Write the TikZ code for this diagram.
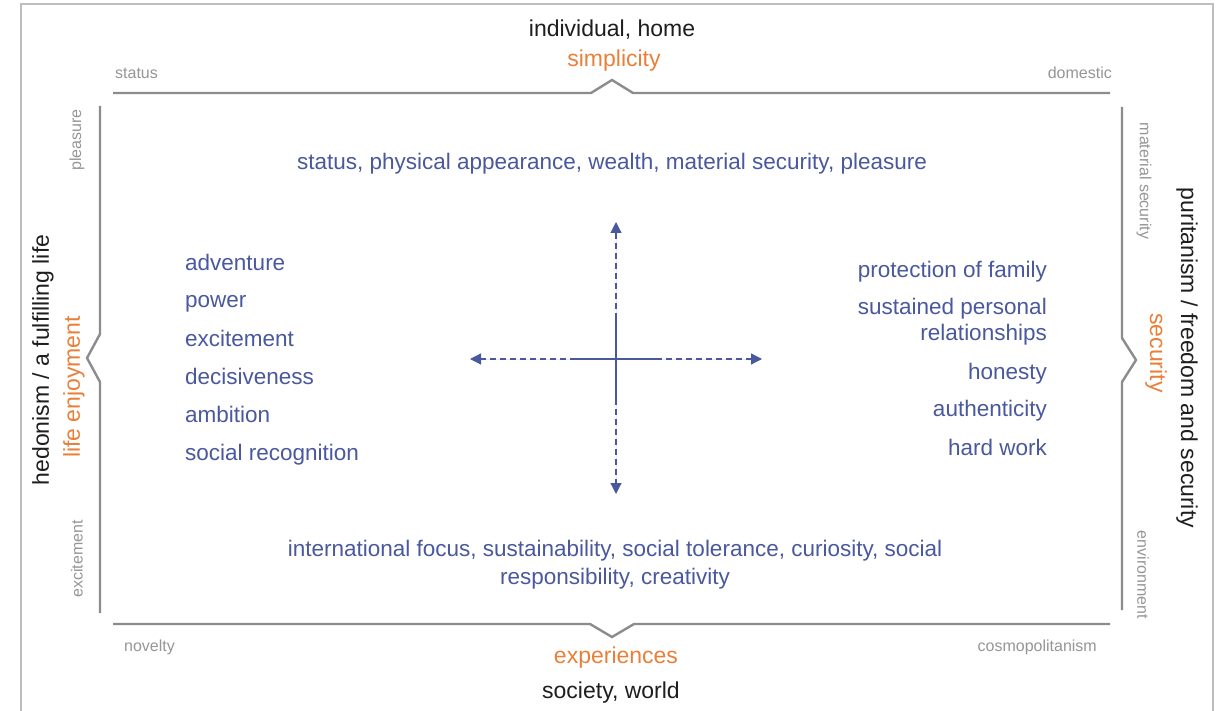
\documentclass[tikz,border=0pt]{standalone}
\usepackage{fontspec}
\setmainfont{Liberation Sans}
\usetikzlibrary{arrows.meta}
\definecolor{tblue}{RGB}{74,88,158}
\definecolor{torange}{RGB}{232,128,58}
\definecolor{tblack}{RGB}{30,30,30}
\definecolor{tgray}{RGB}{150,150,150}
\definecolor{framegray}{RGB}{190,190,190}
\definecolor{bracketgray}{RGB}{140,140,140}
\tikzset{
  bluetxt/.style={text=tblue, font=\fontsize{22.5}{25.5}\selectfont, inner sep=0pt},
  axislbl/.style={text=tblack, font=\fontsize{23}{27}\selectfont, inner sep=0pt},
  poletxt/.style={text=torange, font=\fontsize{23}{27}\selectfont, inner sep=0pt},
  cornertxt/.style={text=tgray, font=\fontsize{16}{19}\selectfont, inner sep=0pt},
  bracket/.style={draw=bracketgray, line width=2.4pt, line join=miter},
  frameline/.style={draw=framegray, line width=1.8pt},
  axisarrow/.style={draw=tblue, line width=1.2pt, dash pattern=on 6pt off 4pt, -{Triangle[length=11pt,width=11pt]}, fill=tblue},
  axissolid/.style={draw=tblue, line width=2.4pt},
}
\begin{document}
\begin{tikzpicture}[x=1pt,y=-1pt]
\useasboundingbox (0,0) rectangle (1223,711);
\fill[white] (0,0) rectangle (1223,711);
% outer frame
\draw[frameline] (21,720) -- (21,4) -- (1213,4) -- (1213,720);
% brackets
\draw[bracket] (113,93) -- (591,93) -- (612,80) -- (633,93) -- (1110,93);
\draw[bracket] (113,624) -- (590,624) -- (612,637) -- (634,624) -- (1110,624);
\draw[bracket] (100,106) -- (100,334) -- (87,358) -- (100,382) -- (100,613);
\draw[bracket] (1122,107) -- (1122,338) -- (1136,360) -- (1122,382) -- (1122,610);
% axis labels
\node[axislbl, anchor=base] (top) at (612,37) {individual, home};
\node[poletxt, anchor=base] (simp) at (614,67) {simplicity};
\node[poletxt, anchor=base] (exp) at (616,663) {experiences};
\node[axislbl, anchor=base] (bot) at (611,698) {society, world};
\node[axislbl, rotate=90] (left) at (43,360) {hedonism / a fulfilling life};
\node[poletxt, rotate=90] (lifeenj) at (74,387) {life enjoyment};
\node[axislbl, rotate=-90] (right) at (1187,358) {puritanism / freedom and security};
\node[poletxt, rotate=-90] (sec) at (1156,353) {security};
% corner labels
\node[cornertxt, anchor=base west] (c1) at (115,79) {status};
\node[cornertxt, anchor=base east] (c2) at (1112,79) {domestic};
\node[cornertxt, anchor=base west] (c3) at (124,651) {novelty};
\node[cornertxt, anchor=base east] (c4) at (1097,651) {cosmopolitanism};
\node[cornertxt, rotate=90] (c5) at (77,140) {pleasure};
\node[cornertxt, rotate=90] (c6) at (77,559) {excitement};
\node[cornertxt, rotate=-90] (c7) at (1144,181) {material security};
\node[cornertxt, rotate=-90] (c8) at (1143,575) {environment};
% blue content
\node[bluetxt, anchor=base] (tq) at (612,170) {status, physical appearance, wealth, material security, pleasure};
\node[bluetxt, anchor=base, align=center, font=\fontsize{22.5}{28}\selectfont] (bq) at (615,584) {international focus, sustainability, social tolerance, curiosity, social\\responsibility, creativity};
\node[bluetxt, anchor=base west] (l1) at (185,271) {adventure};
\node[bluetxt, anchor=base west] (l2) at (185,308) {power};
\node[bluetxt, anchor=base west] (l3) at (185,346) {excitement};
\node[bluetxt, anchor=base west] (l4) at (185,384) {decisiveness};
\node[bluetxt, anchor=base west] (l5) at (185,422) {ambition};
\node[bluetxt, anchor=base west] (l6) at (185,460) {social recognition};
\node[bluetxt, anchor=base east] (r1) at (1047,277) {protection of family};
\node[bluetxt, anchor=base east, align=right] (r2) at (1047,340) {sustained personal\\relationships};
\node[bluetxt, anchor=base east] (r3) at (1047,379) {honesty};
\node[bluetxt, anchor=base east] (r4) at (1047,416) {authenticity};
\node[bluetxt, anchor=base east] (r5) at (1047,455) {hard work};
% crosshair
\coordinate (ctr) at (616,359);
\coordinate (aL) at (470,359);
\coordinate (aR) at (762,359);
\coordinate (aU) at (616,222);
\coordinate (aD) at (616,494);
\coordinate (sL) at (576,359);
\coordinate (sR) at (656,359);
\coordinate (sU) at (616,318);
\coordinate (sD) at (616,400);
\draw[axisarrow] (ctr) -- (aL);
\draw[axisarrow] (ctr) -- (aR);
\draw[axisarrow] (ctr) -- (aU);
\draw[axisarrow] (ctr) -- (aD);
\draw[axissolid] (sL) -- (sR);
\draw[axissolid] (sU) -- (sD);
\end{tikzpicture}
\end{document}
